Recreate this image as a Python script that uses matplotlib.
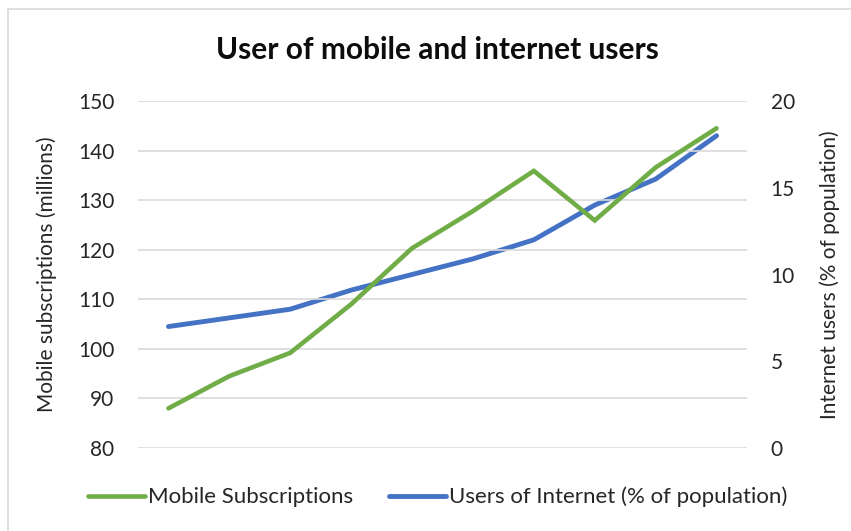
import matplotlib.pyplot as plt
from matplotlib.patches import Rectangle

plt.rcParams['font.family'] = ['Lato', 'DejaVu Sans']

# ten yearly observations, no category labels shown
periods = list(range(10))
mobile_subs = [88.0, 94.5, 99.2, 109.0, 120.3, 127.8, 135.9, 125.9, 136.6, 144.5]
internet_pct = [7.0, 7.5, 8.0, 9.1, 10.0, 10.9, 12.0, 14.0, 15.5, 18.0]

GREEN = '#70AD47'
BLUE = '#4472C4'
GRID = '#D9D9D9'

W, H = 851, 531
fig = plt.figure(figsize=(W / 100, H / 100), dpi=100)

# chart area frame (left and top edges show, the rest runs off the canvas)
fig.patches.append(Rectangle((8 / W, -0.1), 1.2, 1 - 9 / H + 0.1,
                             transform=fig.transFigure, fill=False,
                             edgecolor='#D9D9D9', lw=1.2))

ax = fig.add_axes([138 / W, 1 - 448 / H, (747 - 138) / W, (448 - 101) / H])
ax2 = ax.twinx()

ax.plot(periods, mobile_subs, color=GREEN, lw=3.3, solid_capstyle='round',
        solid_joinstyle='miter', label='Mobile Subscriptions', zorder=3)
ax2.plot(periods, internet_pct, color=BLUE, lw=3.5, solid_capstyle='round',
         solid_joinstyle='miter', label='Users of Internet (% of population)', zorder=3)

ax.set_xlim(-0.5, 9.5)
ax.set_ylim(80, 150)
ax.set_yticks(range(80, 151, 10))
ax2.set_ylim(0, 20)
ax2.set_yticks([0, 5, 10, 15, 20])

ax.set_xticks([])
ax.grid(axis='y', color=GRID, lw=1.2)
ax.set_axisbelow(True)
for a in (ax, ax2):
    for s in a.spines.values():
        s.set_visible(False)
    a.tick_params(axis='y', length=0, labelsize=15, colors='#262626')

ax.tick_params(axis='y', pad=17)
ax2.tick_params(axis='y', pad=17)

ax.set_ylabel('Mobile subscriptions (millions)', fontsize=15, color='#262626', labelpad=15)
ax2.set_ylabel('Internet users (% of population)', fontsize=15, color='#262626', labelpad=18)

# green line drawn above the blue one
ax.set_zorder(3)
ax2.set_zorder(1)
ax.patch.set_visible(False)

fig.text(437 / W, 1 - 50 / H, 'User of mobile and internet users', ha='center', va='center',
         fontsize=21.5, fontweight='bold', color='#0D0D0D')

h1, l1 = ax.get_legend_handles_labels()
h2, l2 = ax2.get_legend_handles_labels()
fig.legend(h1 + h2, l1 + l2, loc='center', bbox_to_anchor=(438 / W, 1 - 497 / H),
           ncol=2, frameon=False, fontsize=16, handlelength=2.55, handletextpad=0.15,
           columnspacing=1.6, labelcolor='#262626')

fig.savefig('out.png', dpi=100)
